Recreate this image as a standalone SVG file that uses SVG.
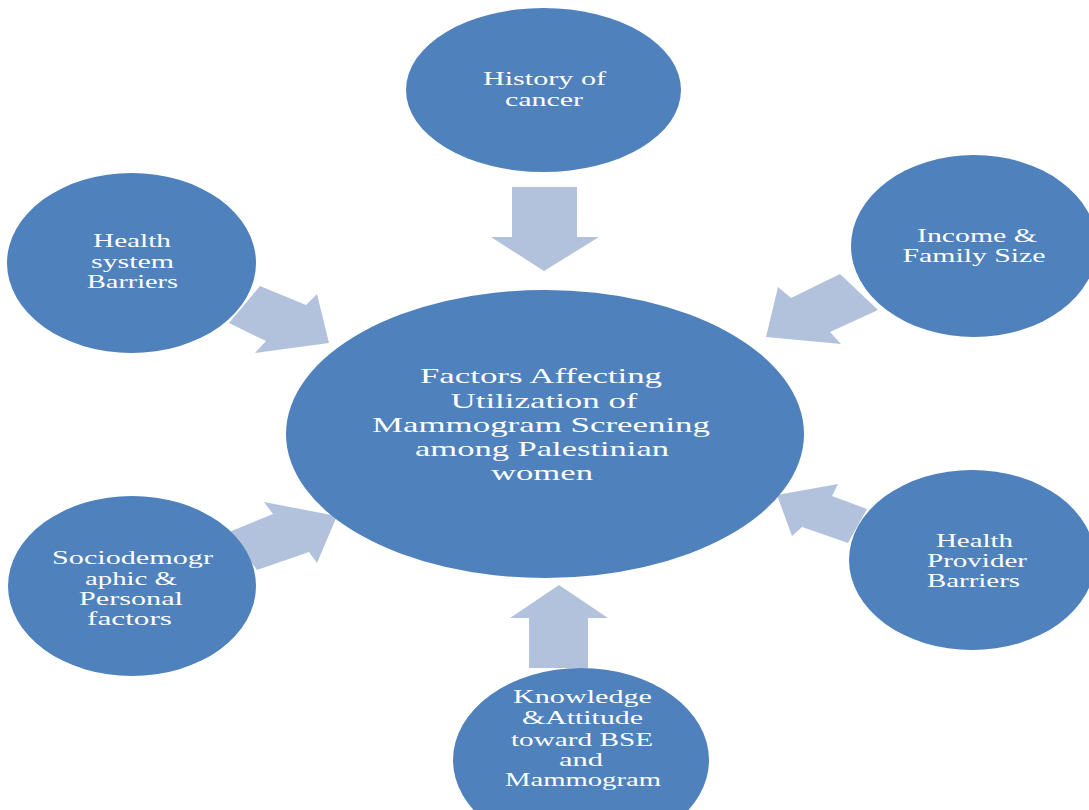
<svg xmlns="http://www.w3.org/2000/svg" width="1089" height="810" viewBox="0 0 1089 810">
<style>
.node{fill:#4F81BD;}
.arrow{fill:#B3C2DC;}
text{font-family:"Liberation Serif","Times New Roman",serif;fill:#FFFFFF;text-anchor:middle;}
.s{font-size:19px;}
.c{font-size:22px;}
</style>
<rect width="1089" height="810" fill="#FFFFFF"/>
<g id="connectors">
<polygon class="arrow" points="512,187 577,187 577,237 599,237 544,271 491,237 512,237"/>
<polygon class="arrow" points="529,668 588,668 588,618 608,618 559,585 510,618 529,618"/>
<polygon class="arrow" points="260,286 306,305 317,294 329,343 255,353 266,341 229,323"/>
<polygon class="arrow" points="840,274 791,298 778,287 766,337 841,344 830,332 878,310"/>
<polygon class="arrow" points="229,532 273,514 264,502 337,516 317,563 309,552 257,570"/>
<polygon class="arrow" points="867,509 832,496 838,484 777,495 792,536 802,527 848,543"/>
</g>
<g id="center">
<ellipse class="node" cx="545" cy="434" rx="259" ry="144"/>
<text class="c" x="541" y="383" textLength="242" lengthAdjust="spacingAndGlyphs">Factors Affecting</text>
<text class="c" x="544" y="408" textLength="187" lengthAdjust="spacingAndGlyphs">Utilization of</text>
<text class="c" x="541" y="432" textLength="338" lengthAdjust="spacingAndGlyphs">Mammogram Screening</text>
<text class="c" x="542" y="456" textLength="254" lengthAdjust="spacingAndGlyphs">among Palestinian</text>
<text class="c" x="542" y="480" textLength="102" lengthAdjust="spacingAndGlyphs">women</text>
</g>
<g id="history">
<ellipse class="node" cx="543.5" cy="90" rx="137.5" ry="82"/>
<text class="s" x="544.5" y="85" textLength="123" lengthAdjust="spacingAndGlyphs">History of</text>
<text class="s" x="544" y="106" textLength="78" lengthAdjust="spacingAndGlyphs">cancer</text>
</g>
<g id="health-system">
<ellipse class="node" cx="131.5" cy="263" rx="124.5" ry="90"/>
<text class="s" x="132" y="247" textLength="78" lengthAdjust="spacingAndGlyphs">Health</text>
<text class="s" x="132.5" y="268" textLength="83" lengthAdjust="spacingAndGlyphs">system</text>
<text class="s" x="132.5" y="288" textLength="91" lengthAdjust="spacingAndGlyphs">Barriers</text>
</g>
<g id="income">
<ellipse class="node" cx="974" cy="246" rx="123" ry="91"/>
<text class="s" x="977" y="242" textLength="120" lengthAdjust="spacingAndGlyphs">Income &amp;</text>
<text class="s" x="974" y="262" textLength="143" lengthAdjust="spacingAndGlyphs">Family Size</text>
</g>
<g id="sociodemographic">
<ellipse class="node" cx="132" cy="586" rx="124" ry="90"/>
<text class="s" x="132.5" y="564" textLength="161" lengthAdjust="spacingAndGlyphs">Sociodemogr</text>
<text class="s" x="131" y="585" textLength="92" lengthAdjust="spacingAndGlyphs">aphic &amp;</text>
<text class="s" x="131" y="605" textLength="104" lengthAdjust="spacingAndGlyphs">Personal</text>
<text class="s" x="129.5" y="625" textLength="85" lengthAdjust="spacingAndGlyphs">factors</text>
</g>
<g id="provider">
<ellipse class="node" cx="972" cy="560" rx="123" ry="90"/>
<text class="s" x="974.5" y="547" textLength="77" lengthAdjust="spacingAndGlyphs">Health</text>
<text class="s" x="977" y="567" textLength="100" lengthAdjust="spacingAndGlyphs">Provider</text>
<text class="s" x="973.5" y="587" textLength="93" lengthAdjust="spacingAndGlyphs">Barriers</text>
</g>
<g id="knowledge">
<ellipse class="node" cx="581" cy="760" rx="128" ry="92"/>
<text class="s" x="582.5" y="703" textLength="139" lengthAdjust="spacingAndGlyphs">Knowledge</text>
<text class="s" x="582.5" y="724" textLength="121" lengthAdjust="spacingAndGlyphs">&amp;Attitude</text>
<text class="s" x="582" y="746" textLength="142" lengthAdjust="spacingAndGlyphs">toward BSE</text>
<text class="s" x="581" y="766" textLength="44" lengthAdjust="spacingAndGlyphs">and</text>
<text class="s" x="583" y="786" textLength="156" lengthAdjust="spacingAndGlyphs">Mammogram</text>
</g>
</svg>
